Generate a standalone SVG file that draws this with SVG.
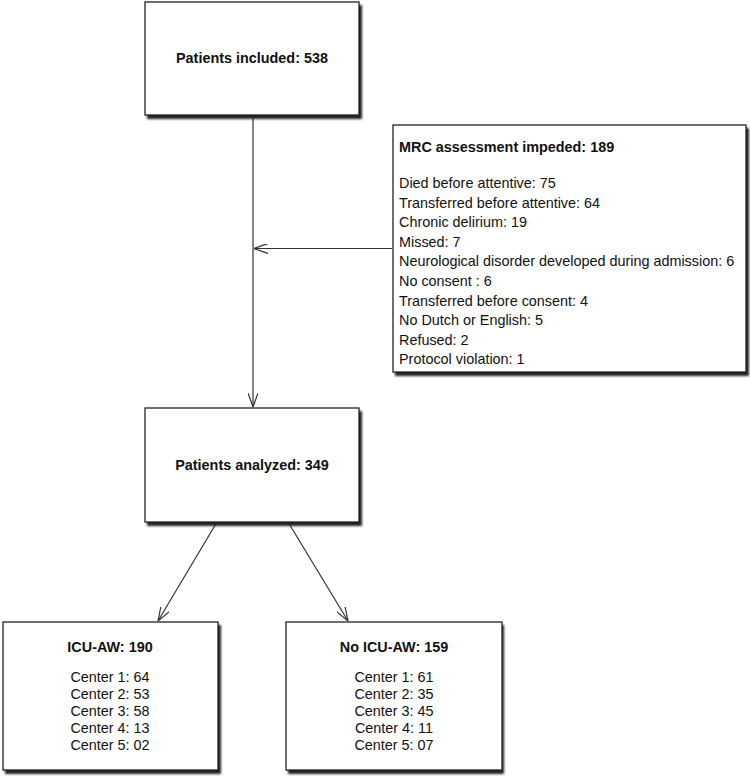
<svg xmlns="http://www.w3.org/2000/svg" width="750" height="779" viewBox="0 0 750 779">
<style>
.box{fill:#fff;stroke:#222;stroke-width:1.3}
.shadow{fill:#222;filter:url(#blur)}
.t{font-family:"Liberation Sans",Arial,sans-serif;font-size:14.4px;fill:#111}
.b{font-weight:bold}
.c{text-anchor:middle}
.conn{stroke:#333;stroke-width:1.2;fill:none;marker-end:url(#arr)}
</style>
<defs>
<filter id="blur" x="-5%" y="-5%" width="110%" height="115%"><feGaussianBlur stdDeviation="0.8"/></filter>
<marker id="arr" viewBox="0 0 14 10" refX="14" refY="5" markerWidth="14" markerHeight="10" markerUnits="userSpaceOnUse" orient="auto">
<path d="M0,0 L14,5 L0,10" fill="none" stroke="#333" stroke-width="1.2"/>
</marker>
</defs>
<g id="connectors">
<line class="conn" x1="253" y1="116" x2="253" y2="407"/>
<line class="conn" x1="392" y1="248.5" x2="254" y2="248.5"/>
<line class="conn" x1="217" y1="522" x2="158" y2="621"/>
<line class="conn" x1="288" y1="522" x2="348" y2="621"/>
</g>
<g id="included">
<rect class="shadow" x="147" y="5" width="215" height="114"/>
<rect class="box" x="145" y="2" width="214" height="113"/>
<text class="t b c" x="252" y="63">Patients included: 538</text>
</g>
<g id="impeded">
<rect class="shadow" x="395" y="128" width="354" height="248"/>
<rect class="box" x="393" y="125" width="353" height="247"/>
<text class="t b" x="399" y="152">MRC assessment impeded: 189</text>
<text class="t" x="399" y="188">Died before attentive: 75</text>
<text class="t" x="399" y="207.6">Transferred before attentive: 64</text>
<text class="t" x="399" y="227.2">Chronic delirium: 19</text>
<text class="t" x="399" y="246.8">Missed: 7</text>
<text class="t" x="399" y="266.4">Neurological disorder developed during admission: 6</text>
<text class="t" x="399" y="286">No consent : 6</text>
<text class="t" x="399" y="305.6">Transferred before consent: 4</text>
<text class="t" x="399" y="325.2">No Dutch or English: 5</text>
<text class="t" x="399" y="344.8">Refused: 2</text>
<text class="t" x="399" y="364.4">Protocol violation: 1</text>
</g>
<g id="analyzed">
<rect class="shadow" x="147" y="411" width="215" height="115"/>
<rect class="box" x="145" y="408" width="214" height="114"/>
<text class="t b c" x="252" y="470">Patients analyzed: 349</text>
</g>
<g id="icuaw">
<rect class="shadow" x="5" y="625" width="216" height="149"/>
<rect class="box" x="3" y="622" width="215" height="148"/>
<text class="t b c" x="110" y="652">ICU-AW: 190</text>
<text class="t c" x="110" y="682">Center 1: 64</text>
<text class="t c" x="110" y="699">Center 2: 53</text>
<text class="t c" x="110" y="716">Center 3: 58</text>
<text class="t c" x="110" y="733">Center 4: 13</text>
<text class="t c" x="110" y="750">Center 5: 02</text>
</g>
<g id="noicuaw">
<rect class="shadow" x="288" y="625" width="216" height="149"/>
<rect class="box" x="286" y="622" width="216" height="148"/>
<text class="t b c" x="394" y="652">No ICU-AW: 159</text>
<text class="t c" x="394" y="682">Center 1: 61</text>
<text class="t c" x="394" y="699">Center 2: 35</text>
<text class="t c" x="394" y="716">Center 3: 45</text>
<text class="t c" x="394" y="733">Center 4: 11</text>
<text class="t c" x="394" y="750">Center 5: 07</text>
</g>
</svg>
